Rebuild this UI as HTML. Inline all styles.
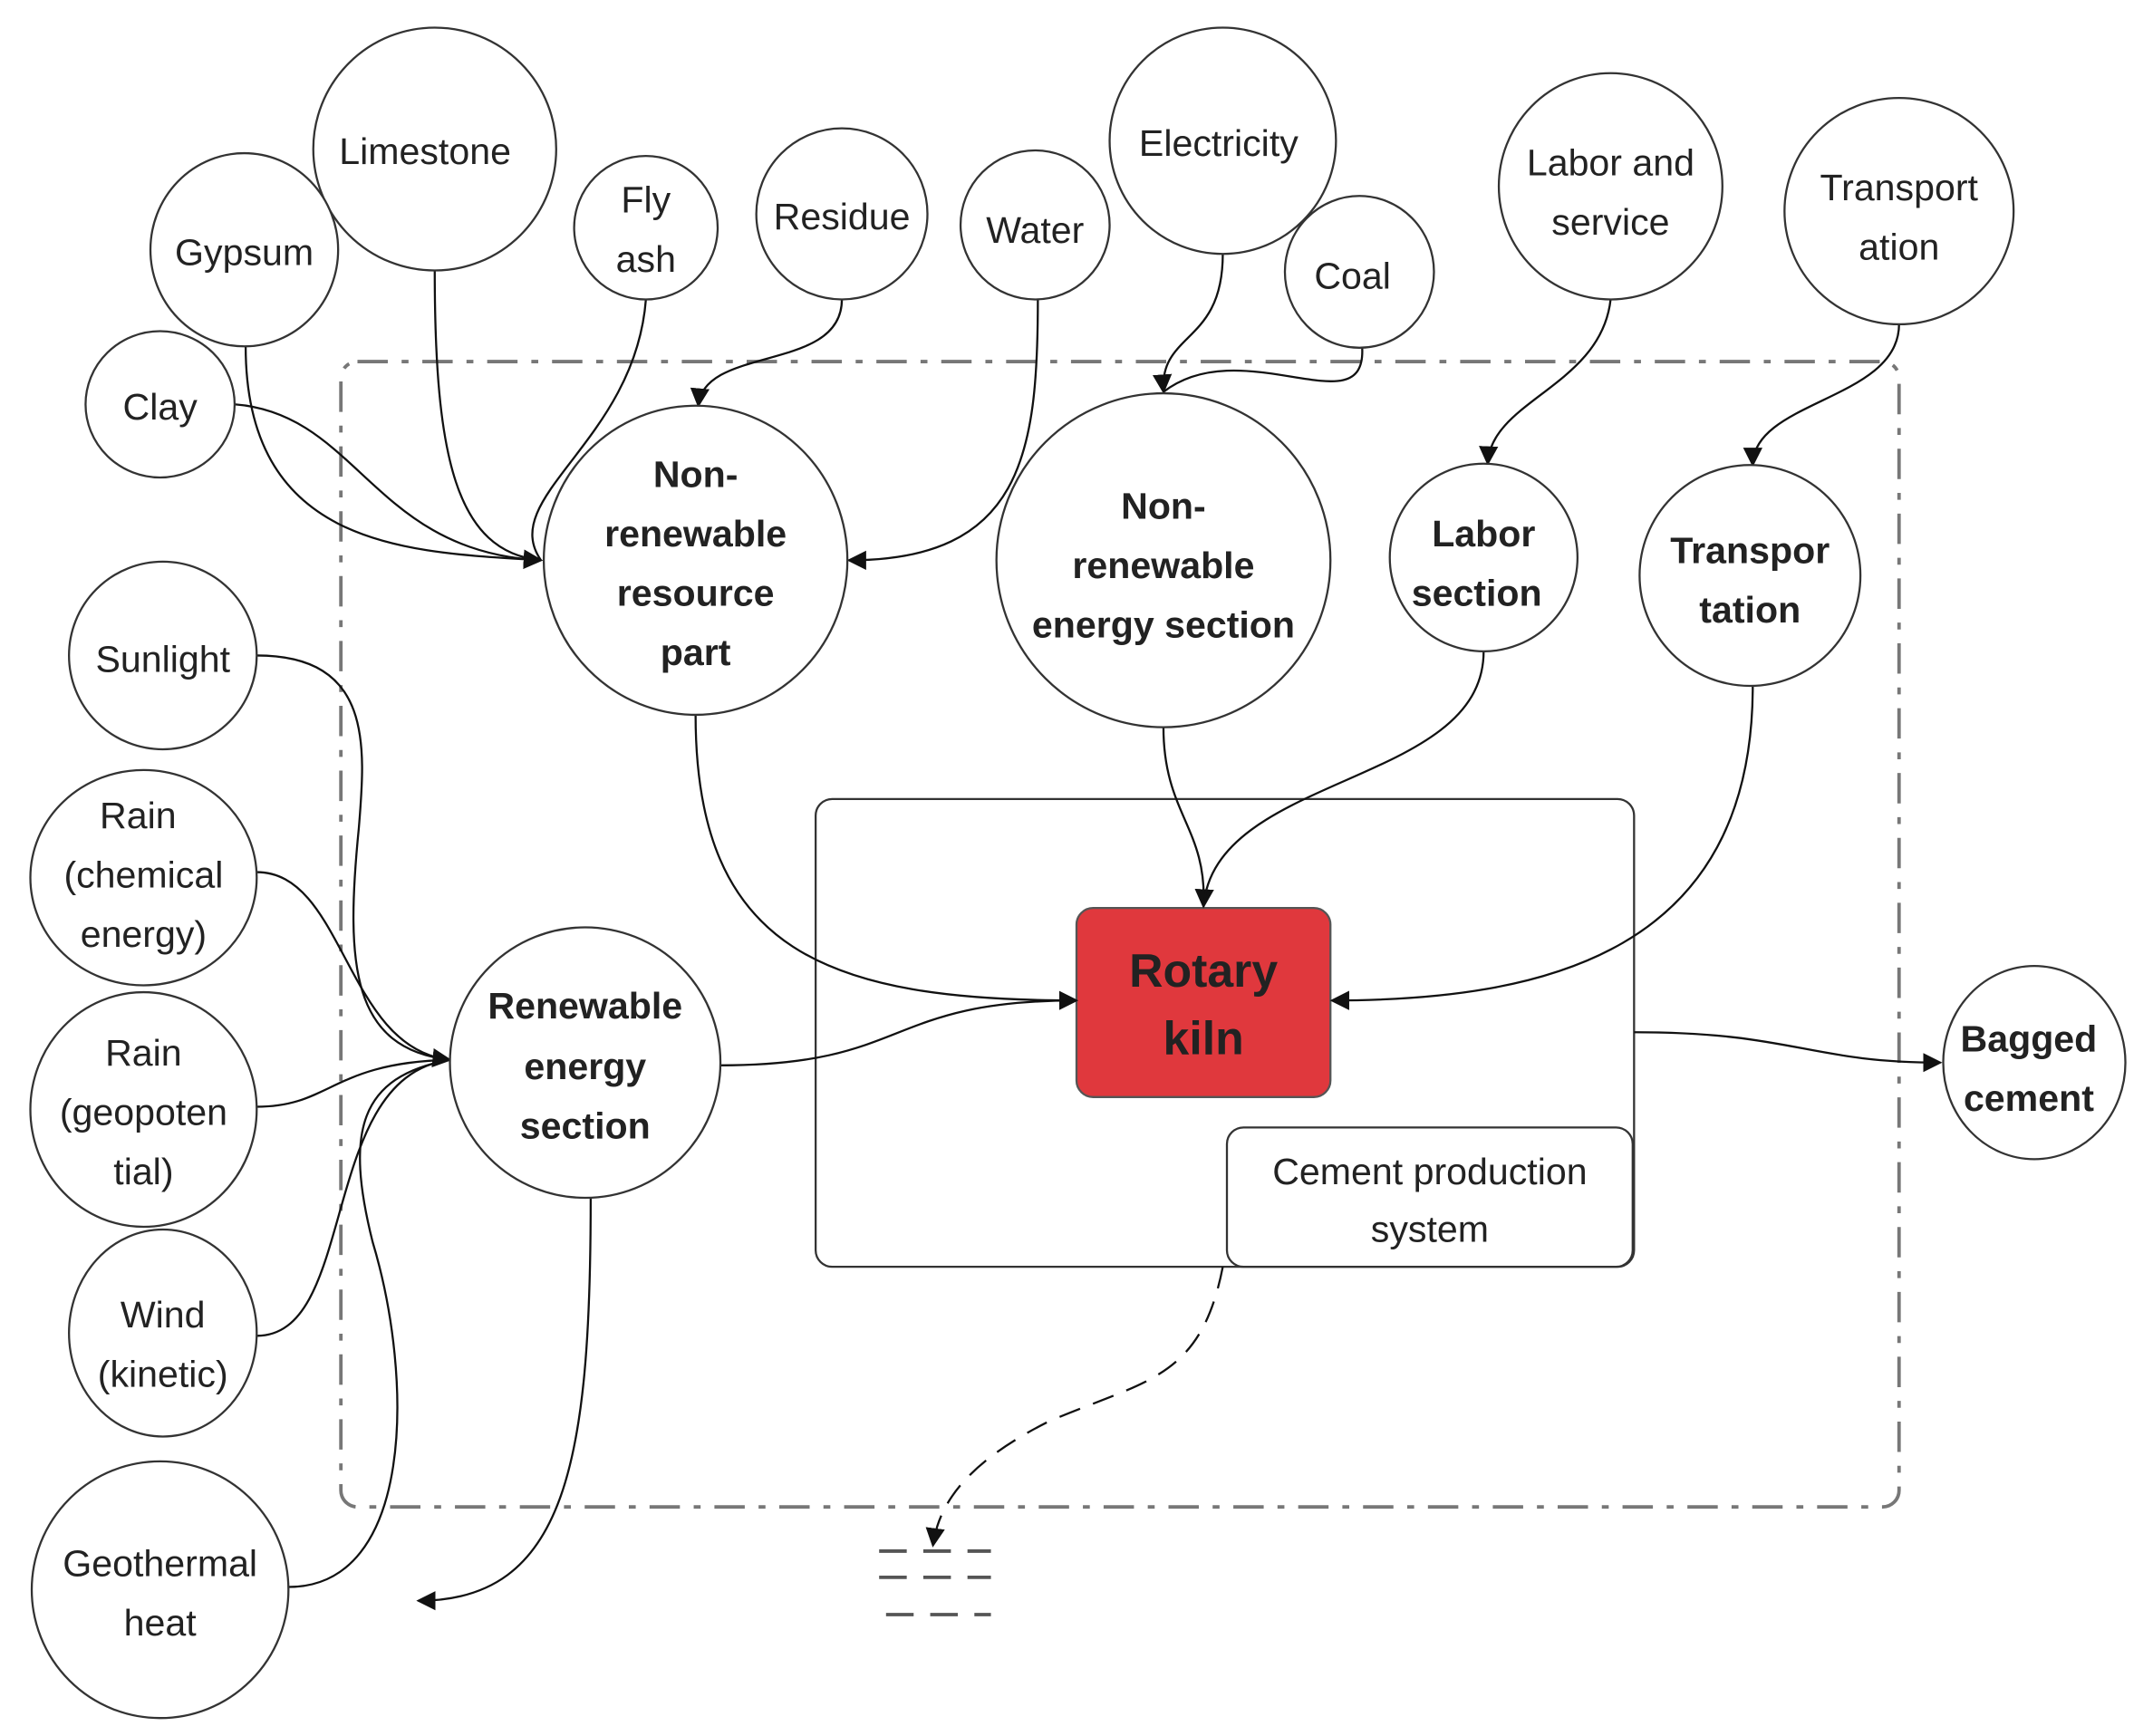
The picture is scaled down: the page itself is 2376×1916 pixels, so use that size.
<!DOCTYPE html>
<html><head><meta charset="utf-8"><style>
html,body{margin:0;padding:0;background:#fff;}
svg{display:block;}
text{font-family:"Liberation Sans",sans-serif;fill:#222;text-anchor:middle;}
.n{font-size:27px;}
.b{font-size:27px;font-weight:bold;}
</style></head><body>
<svg width="2376" height="1916" viewBox="0 0 1560 1258" preserveAspectRatio="none" xmlns="http://www.w3.org/2000/svg">
<defs>
<marker id="a" viewBox="0 0 10 10" refX="9" refY="5" markerWidth="8" markerHeight="8" markerUnits="userSpaceOnUse" orient="auto"><path d="M0,0 L10,5 L0,10 z" fill="#111"/></marker>
<marker id="A" viewBox="0 0 10 10" refX="9" refY="5" markerWidth="14" markerHeight="14" markerUnits="userSpaceOnUse" orient="auto"><path d="M0,0 L10,5 L0,10 z" fill="#111"/></marker>
</defs>
<rect width="1560" height="1258" fill="#fff"/>
<!-- dash-dot boundary -->
<rect x="247" y="262" width="1129" height="830" rx="12" fill="none" stroke="#777" stroke-width="2.5" stroke-dasharray="22,10,5,10"/>
<!-- system box -->
<rect x="591" y="579" width="593" height="339" rx="12" fill="none" stroke="#333" stroke-width="1.5"/>
<rect x="889" y="817" width="294" height="101" rx="12" fill="#fff" stroke="#333" stroke-width="1.5"/>
<text class="n" x="1036" y="858">Cement production</text>
<text class="n" x="1036" y="900">system</text>
<rect x="780" y="658" width="184" height="137" rx="12" fill="#e0383d" stroke="#555" stroke-width="1.5"/>
<text class="b" x="872" y="715" style="font-size:34px">Rotary</text>
<text class="b" x="872" y="764" style="font-size:34px">kiln</text>

<g fill="none" stroke="#111" stroke-width="1.5">
<!-- to NRR part -->
<path d="M170,293 C260,300 270,400 392,406" marker-end="url(#A)"/>
<path d="M178,251 C178,400 300,400 392,406" marker-end="url(#A)"/>
<path d="M315,196 C315,330 330,400 392,406"/>
<path d="M468,217 C460,320 360,360 392,406"/>
<path d="M610,217 C610,270 510,250 506,294" marker-end="url(#A)"/>
<path d="M752,217 C752,330 740,406 615,406" marker-end="url(#A)"/>
<!-- energy -->
<path d="M886,184 C886,250 840,240 843,284" marker-end="url(#A)"/>
<path d="M987,252 C990,310 900,240 843,284"/>
<path d="M1167,217 C1160,280 1080,290 1078,336" marker-end="url(#A)"/>
<path d="M1376,235 C1376,290 1270,290 1270,337" marker-end="url(#A)"/>
<!-- to kiln -->
<path d="M504,518 C504,690 600,725 780,725" marker-end="url(#A)"/>
<path d="M843,527 C843,590 875,600 872,657" marker-end="url(#A)"/>
<path d="M1075,472 C1075,570 880,560 872,657"/>
<path d="M1270,497 C1270,690 1120,725 965,725" marker-end="url(#A)"/>
<path d="M522,772 C660,772 640,725 780,725"/>
<path d="M1184,748 C1300,748 1310,770 1406,770" marker-end="url(#A)"/>
<!-- renewables -->
<path d="M186,475 C270,475 265,540 260,600 C250,700 255,760 326,768" marker-end="url(#A)"/>
<path d="M186,632 C250,632 250,760 326,768"/>
<path d="M186,802 C240,802 240,770 326,768"/>
<path d="M186,968 C260,968 230,780 326,768"/>
<path d="M209,1150 C300,1150 300,1000 270,900 C250,820 260,780 326,768"/>
<path d="M428,868 C428,1060 410,1160 303,1160" marker-end="url(#A)"/>
</g>
<path d="M886,918 C870,1000 830,1000 760,1030 C700,1060 680,1090 676,1120" fill="none" stroke="#111" stroke-width="1.5" stroke-dasharray="16,10" marker-end="url(#A)"/>
<g stroke="#555" stroke-width="2.5" stroke-dasharray="20,12">
<line x1="637" y1="1124" x2="718" y2="1124"/>
<line x1="637" y1="1143" x2="718" y2="1143"/>
<line x1="642" y1="1170" x2="718" y2="1170"/>
</g>

<g fill="#fff" stroke="#333" stroke-width="1.5">
<ellipse cx="315" cy="108" rx="88" ry="88"/>
<ellipse cx="177" cy="181" rx="68" ry="70"/>
<ellipse cx="116" cy="293" rx="54" ry="53"/>
<ellipse cx="468" cy="165" rx="52" ry="52"/>
<ellipse cx="610" cy="155" rx="62" ry="62"/>
<ellipse cx="750" cy="163" rx="54" ry="54"/>
<ellipse cx="886" cy="102" rx="82" ry="82"/>
<ellipse cx="985" cy="197" rx="54" ry="55"/>
<ellipse cx="1167" cy="135" rx="81" ry="82"/>
<ellipse cx="1376" cy="153" rx="83" ry="82"/>
<ellipse cx="504" cy="406" rx="110" ry="112"/>
<ellipse cx="843" cy="406" rx="121" ry="121"/>
<ellipse cx="1075" cy="404" rx="68" ry="68"/>
<ellipse cx="1268" cy="417" rx="80" ry="80"/>
<ellipse cx="118" cy="475" rx="68" ry="68"/>
<ellipse cx="104" cy="636" rx="82" ry="78"/>
<ellipse cx="104" cy="804" rx="82" ry="85"/>
<ellipse cx="118" cy="966" rx="68" ry="75"/>
<ellipse cx="116" cy="1152" rx="93" ry="93"/>
<ellipse cx="424" cy="770" rx="98" ry="98"/>
<ellipse cx="1474" cy="770" rx="66" ry="70"/>
</g>

<text class="n" x="308" y="119">Limestone</text>
<text class="n" x="177" y="192">Gypsum</text>
<text class="n" x="116" y="304">Clay</text>
<text class="n" x="468" y="154">Fly</text>
<text class="n" x="468" y="197">ash</text>
<text class="n" x="610" y="166">Residue</text>
<text class="n" x="750" y="176">Water</text>
<text class="n" x="883" y="113">Electricity</text>
<text class="n" x="980" y="209">Coal</text>
<text class="n" x="1167" y="127">Labor and</text>
<text class="n" x="1167" y="170">service</text>
<text class="n" x="1376" y="145">Transport</text>
<text class="n" x="1376" y="188">ation</text>
<text class="b" x="504" y="353">Non-</text>
<text class="b" x="504" y="396">renewable</text>
<text class="b" x="504" y="439">resource</text>
<text class="b" x="504" y="482">part</text>
<text class="b" x="843" y="376">Non-</text>
<text class="b" x="843" y="419">renewable</text>
<text class="b" x="843" y="462">energy section</text>
<text class="b" x="1075" y="396">Labor</text>
<text class="b" x="1070" y="439">section</text>
<text class="b" x="1268" y="408">Transpor</text>
<text class="b" x="1268" y="451">tation</text>
<text class="n" x="118" y="487">Sunlight</text>
<text class="n" x="100" y="600">Rain</text>
<text class="n" x="104" y="643">(chemical</text>
<text class="n" x="104" y="686">energy)</text>
<text class="n" x="104" y="772">Rain</text>
<text class="n" x="104" y="815">(geopoten</text>
<text class="n" x="104" y="858">tial)</text>
<text class="n" x="118" y="962">Wind</text>
<text class="n" x="118" y="1005">(kinetic)</text>
<text class="n" x="116" y="1142">Geothermal</text>
<text class="n" x="116" y="1185">heat</text>
<text class="b" x="424" y="738">Renewable</text>
<text class="b" x="424" y="782">energy</text>
<text class="b" x="424" y="825">section</text>
<text class="b" x="1470" y="762">Bagged</text>
<text class="b" x="1470" y="805">cement</text>
</svg>
</body></html>
